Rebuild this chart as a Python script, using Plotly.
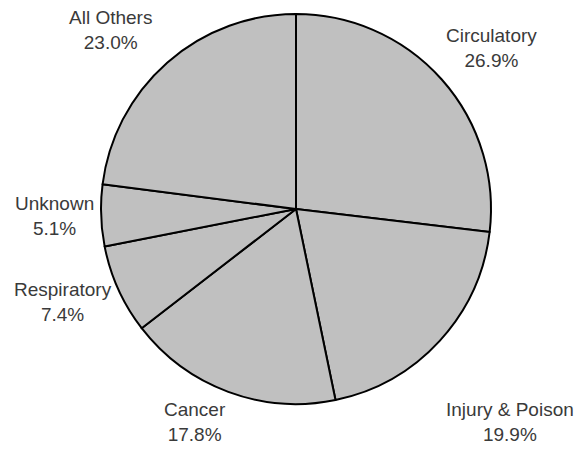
import plotly.graph_objects as go

# Causes of death, share in percent (clockwise from 12 o'clock)
causes = ["Circulatory", "Injury & Poison", "Cancer", "Respiratory", "Unknown", "All Others"]
shares = [26.9, 19.9, 17.8, 7.4, 5.1, 23.0]

# label anchor positions in screen pixels (x, y)
label_px = {
    "Circulatory": (491, 48),
    "Injury & Poison": (510, 422),
    "Cancer": (195, 422),
    "Respiratory": (63, 302),
    "Unknown": (54, 216),
    "All Others": (110, 30),
}

W, H = 577, 451


def fx(p):
    return p / W


def fy(p):
    return 1 - p / H


fig = go.Figure()
fig.add_trace(go.Pie(
    labels=causes,
    values=shares,
    sort=False,
    direction="clockwise",
    rotation=0,
    textinfo="none",
    hoverinfo="label+value",
    marker=dict(colors=["#c0c0c0"] * len(causes), line=dict(color="black", width=2)),
    domain=dict(x=[fx(101), fx(491)], y=[fy(404), fy(14)]),
    showlegend=False,
))

# Labels sit outside the pie without leader lines
for name, val in zip(causes, shares):
    px_, py_ = label_px[name]
    fig.add_annotation(
        x=fx(px_), y=fy(py_), xref="paper", yref="paper",
        text=f"{name}<br>{val:.1f}%",
        showarrow=False, xanchor="center", yanchor="middle",
        font=dict(family="Liberation Sans, Arial, sans-serif", size=19, color="#3a3a3a"),
    )

fig.update_layout(
    width=W, height=H,
    margin=dict(l=0, r=0, t=0, b=0),
    paper_bgcolor="white",
    plot_bgcolor="white",
)

# drop the default page margin so the figure fills the window exactly
fig.write_html(
    "out.html",
    config={"displayModeBar": False},
    post_script="document.body.style.margin='0';document.body.style.overflow='hidden';",
)
